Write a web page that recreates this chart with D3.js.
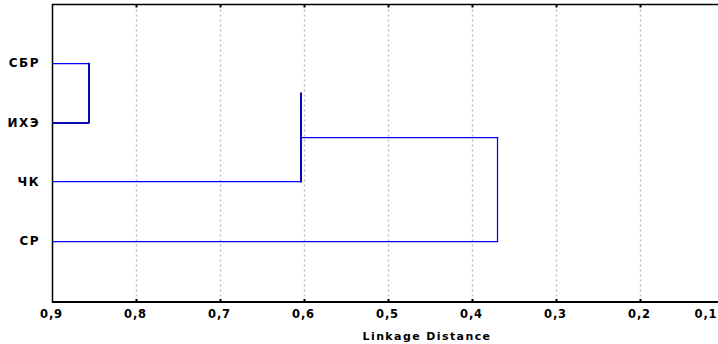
<!DOCTYPE html>
<html>
<head>
<meta charset="utf-8">
<script src="https://cdn.jsdelivr.net/npm/d3@7"></script>
<style>
  html, body { margin: 0; padding: 0; background: #fff; }
  svg { display: block; }
  text { font-family: "DejaVu Sans", Arial, sans-serif; font-weight: bold; fill: #000; }
</style>
</head>
<body>
<svg id="chart" width="718" height="344"></svg>
<script>
// Leaves, top to bottom
const leaves = ["СБР", "ИХЭ", "ЧК", "СР"];
// Agglomeration steps: left/right member and linkage distance
const mergeLeft = ["СБР", "C1", "C2"];
const mergeRight = ["ИХЭ", "ЧК", "СР"];
const mergeIds = ["C1", "C2", "C3"];
const mergeDist = [0.857, 0.604, 0.370];
// Axis ticks
const xTicks = [0.9, 0.8, 0.7, 0.6, 0.5, 0.4, 0.3, 0.2, 0.1];
const xTickLabels = ["0,9", "0,8", "0,7", "0,6", "0,5", "0,4", "0,3", "0,2", "0,1"];
const axisTitle = "Linkage Distance";

(function () {
  const svg = d3.select("#chart");
  const W = 718;
  const plotLeft = 52.5, plotTop = 4.5, plotBottom = 302;

  const x = d3.scaleLinear().domain([0.9, 0.1]).range([plotLeft, 724.5]);
  const y = d3.scalePoint().domain(leaves).range([4, 300.6]).padding(1);
  // pixel snapping: thin strokes sit on half pixels, 2px strokes on whole pixels
  const snap1 = v => Math.floor(v) + 0.5;
  const snap2 = v => Math.round(v);

  // Vertical dotted grid
  svg.append("g").selectAll("line")
    .data(xTicks.slice(1))
    .join("line")
    .attr("x1", d => snap1(x(d)))
    .attr("x2", d => snap1(x(d)))
    .attr("y1", plotTop).attr("y2", plotBottom)
    .attr("stroke", "#b8b8b8")
    .attr("stroke-width", 1.4)
    .attr("stroke-dasharray", "2,3");

  // Frame: top border, left axis, bottom axis
  svg.append("line").attr("x1", plotLeft).attr("x2", W).attr("y1", plotTop).attr("y2", plotTop)
    .attr("stroke", "#000").attr("stroke-width", 1.5);
  svg.append("line").attr("x1", plotLeft).attr("x2", plotLeft).attr("y1", plotTop - 0.7).attr("y2", plotBottom + 1)
    .attr("stroke", "#000").attr("stroke-width", 1.5);
  svg.append("line").attr("x1", plotLeft).attr("x2", W).attr("y1", plotBottom).attr("y2", plotBottom)
    .attr("stroke", "#000").attr("stroke-width", 2);

  // Small inner tick marks
  const tickG = svg.append("g");
  xTicks.slice(1).forEach(t => {
    const px = snap1(x(t));
    tickG.append("line").attr("x1", px).attr("x2", px).attr("y1", plotBottom - 3).attr("y2", plotBottom)
      .attr("stroke", "#000").attr("stroke-width", 2);
    tickG.append("line").attr("x1", px).attr("x2", px).attr("y1", plotTop).attr("y2", plotTop + 3)
      .attr("stroke", "#000").attr("stroke-width", 2);
  });

  // Tick labels; the last one is kept inside the right edge
  svg.append("g").selectAll("text")
    .data(xTicks)
    .join("text")
    .attr("x", d => Math.min(x(d) - 1, 706))
    .attr("y", 318)
    .attr("text-anchor", "middle")
    .attr("font-size", 11.5)
    .attr("letter-spacing", 0.8)
    .text((d, i) => xTickLabels[i]);

  // Axis title
  svg.append("text")
    .attr("x", 427).attr("y", 340)
    .attr("text-anchor", "middle")
    .attr("font-size", 11)
    .attr("letter-spacing", 1.4)
    .text(axisTitle);

  // Leaf labels
  svg.append("g").selectAll("text")
    .data(leaves)
    .join("text")
    .attr("x", 40)
    .attr("y", d => y(d) + 4)
    .attr("text-anchor", "end")
    .attr("font-size", 12)
    .attr("letter-spacing", 1.5)
    .text(d => d);

  // Dendrogram: each node gets (dist, y); leaves sit at the left edge
  const nodePos = {};
  leaves.forEach(l => { nodePos[l] = { d: 0.9, y: y(l) }; });

  const blue = "#0000ff";
  const dark = "#0a0ab4";
  const g = svg.append("g").attr("fill", "none");

  function hseg(x1, x2, yy, w, c) {
    const s = w === 2 ? snap2 : snap1;
    g.append("line")
      .attr("x1", x1).attr("x2", x2).attr("y1", s(yy)).attr("y2", s(yy))
      .attr("stroke", c).attr("stroke-width", w === 2 ? 2 : 1.25);
  }
  function vseg(xx, y1, y2, w, c) {
    const s = w === 2 ? snap2 : snap1;
    g.append("line")
      .attr("x1", s(xx)).attr("x2", s(xx)).attr("y1", y1).attr("y2", y2)
      .attr("stroke", c).attr("stroke-width", w === 2 ? 2 : 1.25);
  }

  mergeIds.forEach((id, i) => {
    const a = nodePos[mergeLeft[i]], b = nodePos[mergeRight[i]];
    const d = mergeDist[i];
    const px = x(d);
    const heavy = i < 2;           // the two closer joins use a heavier stroke
    // leg from the upper member; the stem leaving the first pair is not drawn
    if (i !== 1) hseg(x(a.d), px + 0.5, a.y, 1, blue);
    // leg from the lower member
    hseg(x(b.d), px + 0.5, b.y, i === 0 ? 2 : 1, i === 0 ? dark : blue);
    // vertical connector
    vseg(px, a.y - 0.5, b.y + 0.5, heavy ? 2 : 1, heavy ? dark : blue);
    nodePos[id] = { d: d, y: (a.y + b.y) / 2 };
  });
})();
</script>
</body>
</html>
